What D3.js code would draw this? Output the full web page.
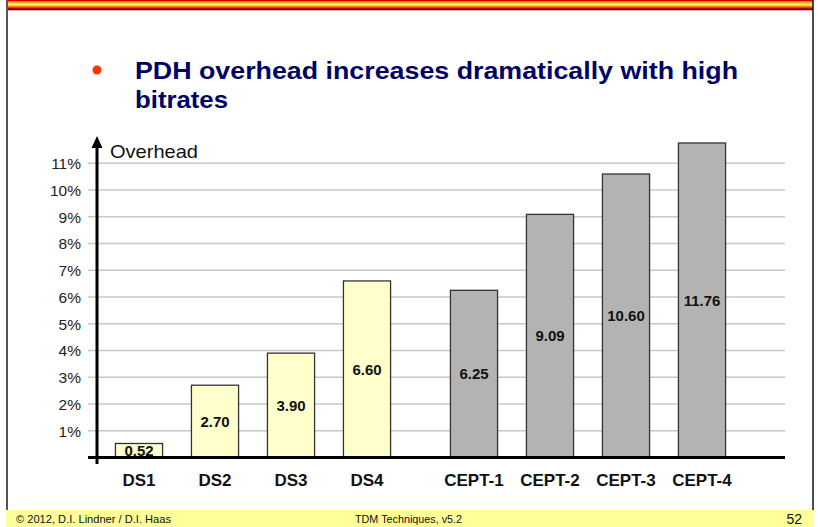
<!DOCTYPE html>
<html><head><meta charset="utf-8">
<script src="https://cdn.jsdelivr.net/npm/d3@7"></script>
<style>
html,body{margin:0;padding:0;background:#fff;}
svg{display:block;font-family:Arial,"Liberation Sans",sans-serif;}
</style></head>
<body>
<svg id="chart" width="818" height="527"></svg>
<script>
const groups = ["DS", "CEPT"];
const categories = ["DS1", "DS2", "DS3", "DS4", "CEPT-1", "CEPT-2", "CEPT-3", "CEPT-4"];
const categoryGroup = ["DS", "DS", "DS", "DS", "CEPT", "CEPT", "CEPT", "CEPT"];
const overhead = [0.52, 2.70, 3.90, 6.60, 6.25, 9.09, 10.60, 11.76];
const valueLabels = ["0.52", "2.70", "3.90", "6.60", "6.25", "9.09", "10.60", "11.76"];
const yTicks = [1, 2, 3, 4, 5, 6, 7, 8, 9, 10, 11];
const groupColors = {DS: "#FFFFCC", CEPT: "#B3B3B3"};

const svg = d3.select("#chart");

// top striped band
const stripeColors = ["#CC0000","#FF6600","#FFCC00","#FFFF66","#FFCC00","#FF6600","#CC0000","#880000"];
const stripeScale = d3.scaleBand().domain(d3.range(stripeColors.length)).range([0, 10]);
svg.append("g").selectAll("rect").data(stripeColors).join("rect")
  .attr("x", 7).attr("width", 806)
  .attr("y", (d, i) => stripeScale(i)).attr("height", stripeScale.bandwidth() + 0.3)
  .attr("fill", d => d);

// side borders
svg.append("line").attr("x1", 7).attr("x2", 7).attr("y1", 0).attr("y2", 510).attr("stroke", "#555").attr("stroke-width", 2);
svg.append("line").attr("x1", 813).attr("x2", 813).attr("y1", 0).attr("y2", 510).attr("stroke", "#111").attr("stroke-width", 1.5);

// footer
svg.append("rect").attr("x", 6).attr("y", 510).attr("width", 808).attr("height", 17).attr("fill", "#FFFF99");
svg.append("text").attr("x", 16).attr("y", 523).attr("font-size", 11.5).attr("fill", "#111")
  .attr("textLength", 155).attr("lengthAdjust", "spacingAndGlyphs").text("© 2012, D.I. Lindner / D.I. Haas");
svg.append("text").attr("x", 355).attr("y", 523).attr("font-size", 11.5).attr("fill", "#111")
  .attr("textLength", 107).attr("lengthAdjust", "spacingAndGlyphs").text("TDM Techniques, v5.2");
svg.append("text").attr("x", 802).attr("y", 524).attr("text-anchor", "end").attr("font-size", 14).attr("fill", "#111").text("52");

// title
svg.append("circle").attr("cx", 97).attr("cy", 70).attr("r", 4.5).attr("fill", "#FF3300");
const title = svg.append("g").attr("font-size", 23).attr("font-weight", "bold").attr("fill", "#000066");
title.append("text").attr("x", 135).attr("y", 79).attr("textLength", 603).attr("lengthAdjust", "spacingAndGlyphs")
  .text("PDH overhead increases dramatically with high");
title.append("text").attr("x", 135).attr("y", 108).attr("textLength", 93).attr("lengthAdjust", "spacingAndGlyphs")
  .text("bitrates");

// scales
const y = d3.scaleLinear().domain([0, 11]).range([457.4, 163.3]);
const xGroup = d3.scaleBand().domain(groups).range([101, 740]).paddingInner(0.0925).paddingOuter(0);
const xInner = d3.scaleBand().domain([0, 1, 2, 3]).range([0, xGroup.bandwidth()]).paddingInner(0.38).paddingOuter(0.19);
const idxInGroup = categories.map((c, i) => categoryGroup.slice(0, i).filter(g => g === categoryGroup[i]).length);
const xPos = i => xGroup(categoryGroup[i]) + xInner(idxInGroup[i]);

// gridlines
svg.append("g").selectAll("line").data(yTicks).join("line")
  .attr("x1", 88).attr("x2", 785)
  .attr("y1", d => y(d)).attr("y2", d => y(d))
  .attr("stroke", "#C8C8C8").attr("stroke-width", 1.5);

// y axis labels via d3 axis
const yAxis = d3.axisLeft(y).tickValues(yTicks).tickFormat(d => d + "%").tickSize(0).tickPadding(0);
const yg = svg.append("g").attr("transform", "translate(81,0)").call(yAxis);
yg.select(".domain").remove();
yg.selectAll("text").attr("font-size", 15.5).attr("fill", "#222").attr("font-family", "Arial, 'Liberation Sans', sans-serif").attr("dy", "0.35em");

// bars
svg.append("g").selectAll("rect").data(overhead).join("rect")
  .attr("x", (d, i) => xPos(i))
  .attr("width", xInner.bandwidth())
  .attr("y", d => y(d))
  .attr("height", d => y(0) - y(d))
  .attr("fill", (d, i) => groupColors[categoryGroup[i]])
  .attr("stroke", "#333").attr("stroke-width", 1.3);

// value labels
svg.append("g").selectAll("text").data(overhead).join("text")
  .attr("x", (d, i) => xPos(i) + xInner.bandwidth() / 2)
  .attr("y", d => (y(d) + y(0)) / 2)
  .attr("dy", "0.36em")
  .attr("text-anchor", "middle").attr("font-size", 15).attr("font-weight", "bold").attr("fill", "#111")
  .text((d, i) => valueLabels[i]);

// axis lines
svg.append("line").attr("x1", 88).attr("x2", 785).attr("y1", y(0)).attr("y2", y(0)).attr("stroke", "#000").attr("stroke-width", 3);
svg.append("line").attr("x1", 97).attr("x2", 97).attr("y1", 464).attr("y2", 146).attr("stroke", "#000").attr("stroke-width", 3);
svg.append("path").attr("d", d3.line()([[91.5, 148], [97, 136], [102.5, 148]])).attr("fill", "#000");

svg.append("text").attr("x", 110).attr("y", 158).attr("font-size", 18.5).attr("fill", "#111")
  .attr("textLength", 88).attr("lengthAdjust", "spacingAndGlyphs").text("Overhead");

// category labels
svg.append("g").selectAll("text").data(categories).join("text")
  .attr("x", (d, i) => xPos(i) + xInner.bandwidth() / 2)
  .attr("y", 486)
  .attr("text-anchor", "middle").attr("font-size", 17).attr("font-weight", "bold").attr("fill", "#111")
  .text(d => d);
</script>
</body></html>
